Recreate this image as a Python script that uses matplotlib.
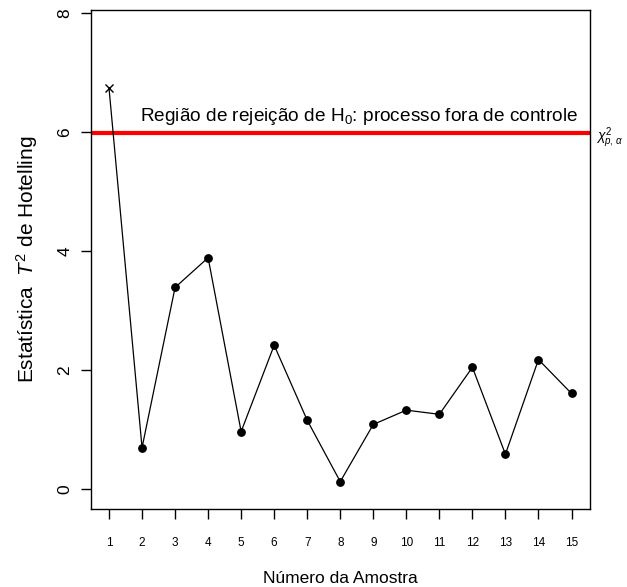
import matplotlib
matplotlib.use("Agg")
import matplotlib.pyplot as plt

# Hotelling T^2 statistic per sample
amostras = list(range(1, 16))
t2 = [6.74, 0.70, 3.39, 3.89, 0.97, 2.42, 1.16, 0.13, 1.09, 1.33, 1.26, 2.05, 0.59, 2.18, 1.61]
limite = 5.99  # chi-square control limit
y_ticks = [0, 2, 4, 6, 8]

plt.rcParams['font.family'] = ['Liberation Sans', 'DejaVu Sans']
plt.rcParams['mathtext.fontset'] = 'custom'
plt.rcParams['mathtext.rm'] = 'Liberation Sans'
plt.rcParams['mathtext.it'] = 'Liberation Sans:italic'

fig = plt.figure(figsize=(6.27, 5.87), dpi=100)
W, H = 627, 587
ax = fig.add_axes([90.5 / W, 1 - 509 / H, (590 - 90.5) / W, (509 - 10) / H])

ax.set_xlim(0.44, 15.56)
ax.set_ylim(-0.33, 8.05)

ax.plot(amostras, t2, color='black', lw=0.9, zorder=3)
fora = [(x, y) for x, y in zip(amostras, t2) if y > limite]
dentro = [(x, y) for x, y in zip(amostras, t2) if y <= limite]
ax.plot([p[0] for p in dentro], [p[1] for p in dentro], 'o', color='black',
        ms=5.3, zorder=4)
ax.plot([p[0] for p in fora], [p[1] for p in fora], 'x', color='black',
        ms=5.5, mew=1.0, zorder=4)

ax.axhline(limite, color='#ff0000', lw=3, zorder=2)
ax.text(8.56, limite + 0.1, r'Região de rejeição de H$_0$: processo fora de controle',
        ha='center', va='bottom', fontsize=13.7)
ax.text(1.013, limite + 0.12, r'$\chi^2_{p,\,\alpha}$', transform=ax.get_yaxis_transform(),
        ha='left', va='top', fontsize=10, clip_on=False)

ax.set_xticks(amostras)
ax.set_xticklabels([str(a) for a in amostras], fontsize=8.5)
ax.tick_params(axis='x', length=7.2, pad=13, width=1)
ax.set_yticks(y_ticks)
ax.set_yticklabels([str(v) for v in y_ticks], fontsize=12.5, rotation=90, va='center')
ax.tick_params(axis='y', length=7.2, pad=6, width=1)

for s in ax.spines.values():
    s.set_linewidth(1)

ax.set_xlabel('Número da Amostra', fontsize=12.5, labelpad=16)
ax.set_ylabel(r'Estatística  $T^2$ de Hotelling', fontsize=15, labelpad=12)

fig.savefig('out.png', dpi=100)
